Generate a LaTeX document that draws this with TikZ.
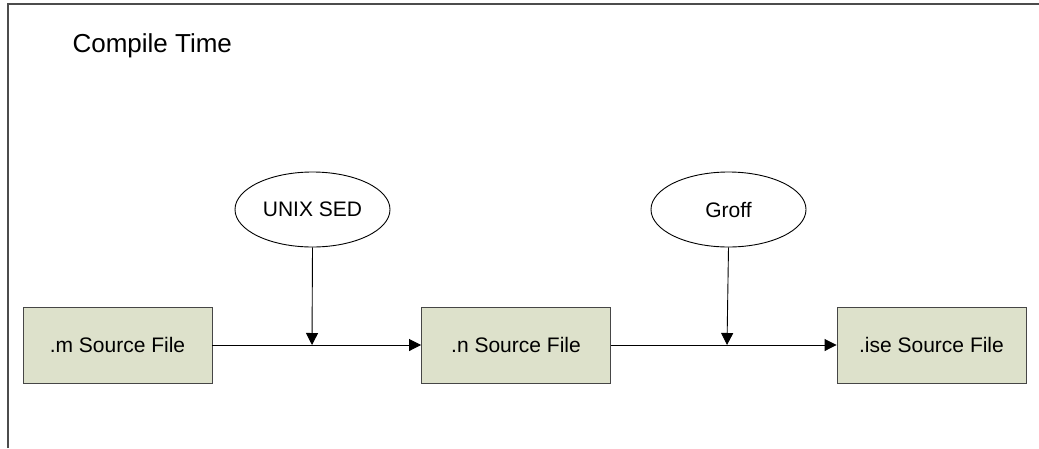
\documentclass[tikz,border=0pt]{standalone}
\usepackage{fontspec}
\setmainfont{Liberation Sans}
\usetikzlibrary{arrows.meta,shapes.geometric}

\definecolor{boxfill}{RGB}{221,225,203}
\definecolor{boxline}{RGB}{70,70,70}

\tikzset{
  srcfile/.style={draw=boxline,fill=boxfill,line width=0.9pt,minimum width=189pt,minimum height=76pt,inner sep=0pt,font=\fontsize{21}{24}\selectfont},
  tool/.style={ellipse,draw,line width=0.9pt,minimum width=155pt,minimum height=75pt,inner sep=0pt,font=\fontsize{21}{24}\selectfont},
  flow/.style={line width=0.9pt,-{Triangle[length=12pt,width=12pt]}}
}

\begin{document}
\begin{tikzpicture}[x=1pt,y=-1pt]
\useasboundingbox (0,0) rectangle (1039,448);
\draw[gray!60!black,line width=1.4pt] (8,448) -- (8,4) -- (1039,4);
\node[anchor=base west,font=\fontsize{26}{30}\selectfont] (title) at (69,52) {Compile Time};

\node[srcfile] (msrc) at (117.5,345) {.m Source File};
\node[srcfile] (nsrc) at (516,345) {.n Source File};
\node[srcfile] (isesrc) at (931.5,345) {.ise Source File};

\node[tool] (sed) at (312.5,209.5) {UNIX SED};
\node[tool] (groff) at (728.5,209.5) {Groff};

\coordinate (j1) at (312,345);
\coordinate (j2) at (727,345);

\draw[flow] (msrc) -- (nsrc);
\draw[flow] (nsrc) -- (isesrc);
\draw[flow] (sed.south) -- (j1);
\draw[flow] (groff.south) -- (j2);
\end{tikzpicture}
\end{document}
